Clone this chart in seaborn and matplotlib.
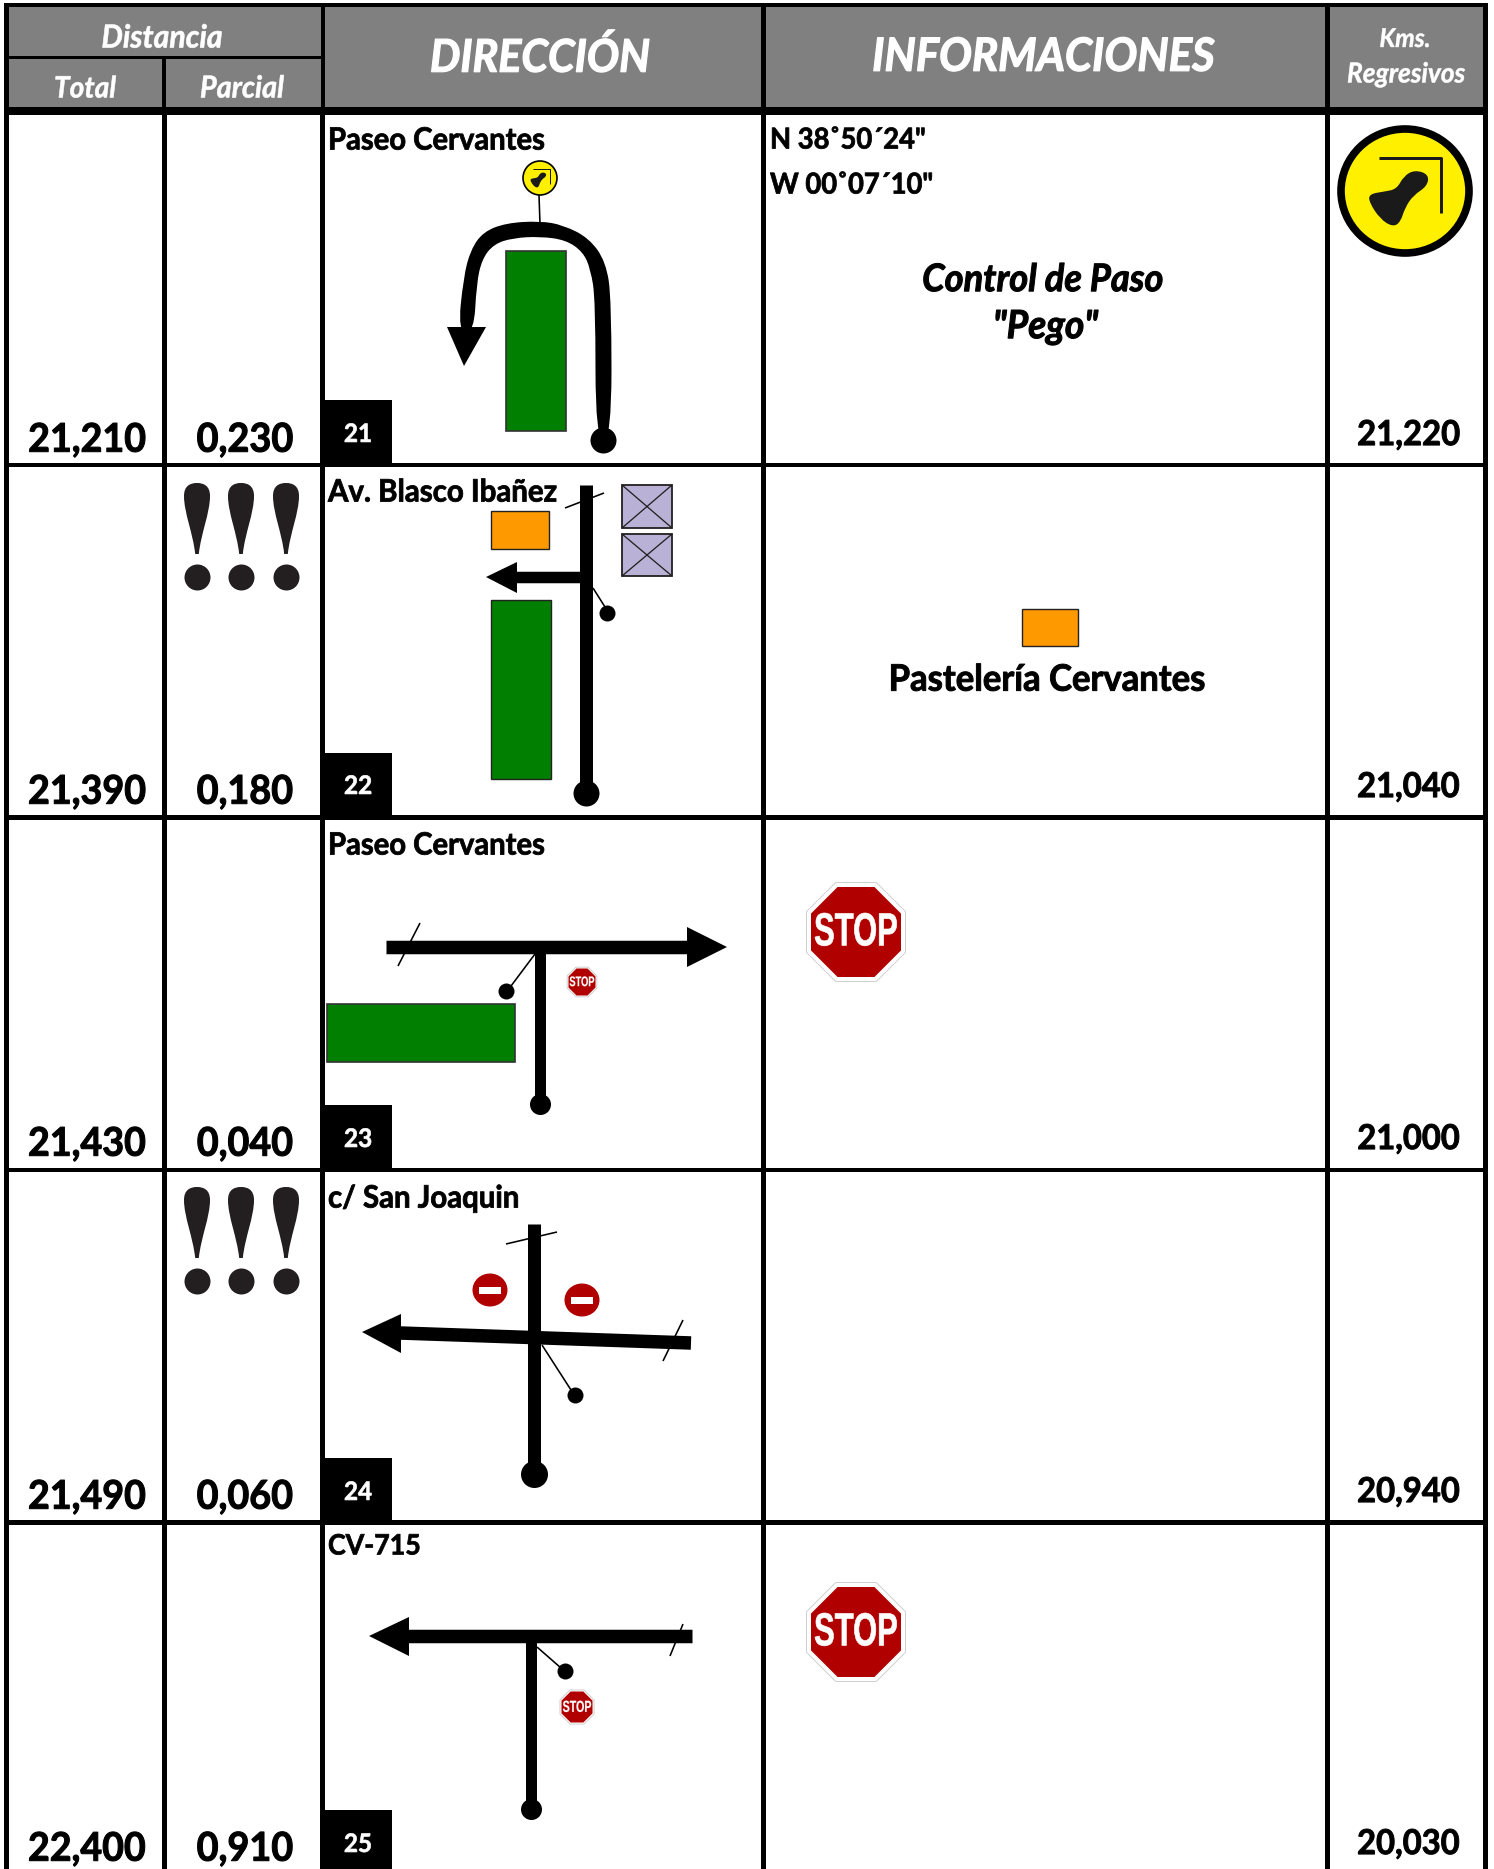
import matplotlib
matplotlib.use("Agg")
import matplotlib.pyplot as plt
import seaborn as sns
from matplotlib.patches import Rectangle, Polygon, Ellipse, PathPatch
from matplotlib.path import Path
from matplotlib.patheffects import AbstractPathEffect
from matplotlib.transforms import Affine2D

# ---- chart content -------------------------------------------------------
totals = ["21,210", "21,390", "21,430", "21,490", "22,400"]
partials = ["0,230", "0,180", "0,040", "0,060", "0,910"]
regressive = ["21,220", "21,040", "21,000", "20,940", "20,030"]
step_numbers = ["21", "22", "23", "24", "25"]
streets = ["Paseo Cervantes", "Av. Blasco Ibañez", "Paseo Cervantes", "c/ San Joaquin", "CV-715"]
street_widths = [217, 229, 217, 191, 93]
coords = ['N 38˚50´24"', 'W 00˚07´10"']
control_lines = ["Control de Paso", '"Pego"']
shop_name = "Pastelería Cervantes"

GRAY, GREEN, ORANGE, RED, LILAC, YELLOW, INK = (
    "#808080", "#007f00", "#ff9900", "#b00000", "#b9b2d6", "#fff000", "#231f20")

sns.set_theme(style="white")
plt.rcParams["font.family"] = ["Lato", "DejaVu Sans"]

fig = plt.figure(figsize=(14.94, 18.69), dpi=100, facecolor="white")
ax = fig.add_axes([0, 0, 1, 1])
ax.set_axis_off()
renderer = fig.canvas.get_renderer()


class Heavy(AbstractPathEffect):
    """Draws the text a little heavier and stretched vertically about its middle."""

    def __init__(self, fy, lw):
        super().__init__()
        self.fy, self.lw = fy, lw

    def draw_path(self, renderer, gc, tpath, affine, rgbFace=None):
        mid = tpath.get_extents().y1 / 2
        gc0 = renderer.new_gc()
        gc0.copy_properties(gc)
        gc0.set_foreground(rgbFace)
        gc0.set_linewidth(self.lw)
        stretch = Affine2D().translate(0, -mid).scale(1, self.fy).translate(0, mid)
        renderer.draw_path(gc0, tpath, stretch + affine, rgbFace)
        gc0.restore()


def label(x, y, s, width, ha="center", color="black", style="normal", family=None, z=8, fy=1.05, heavy=0.028):
    t = ax.text(x, y + 2, s, ha=ha, va="center", color=color, fontweight="bold", fontstyle=style,
                fontsize=20, zorder=z, family=family or ["Lato", "DejaVu Sans"])
    w = t.get_window_extent(renderer).width
    size = 20 * width / w
    t.set_fontsize(size)
    t.set_path_effects([Heavy(fy, size * heavy)])
    return t


def rect(x0, y0, x1, y1, fc, ec="none", lw=0, z=1):
    ax.add_patch(Rectangle((x0, y0), x1 - x0, y1 - y0, facecolor=fc, edgecolor=ec, linewidth=lw, zorder=z))


def road(xs, ys, px, z=4, color="black"):
    sns.lineplot(x=xs, y=ys, estimator=None, sort=False, color=color, linewidth=px * 0.72,
                 solid_capstyle="butt", ax=ax, zorder=z, legend=False)


def dots(xs, ys, px, color="black"):
    sns.scatterplot(x=xs, y=ys, s=(px * 0.72) ** 2, color=color, linewidth=0, ax=ax, zorder=5, legend=False)


def head(pts):
    ax.add_patch(Polygon(pts, closed=True, facecolor="black", edgecolor="none", zorder=5))


def blob(pts, color, z):
    mids = [((pts[i][0] + pts[i - 1][0]) / 2, (pts[i][1] + pts[i - 1][1]) / 2) for i in range(len(pts))]
    v, c = [mids[0]], [Path.MOVETO]
    for i in range(len(pts)):
        v += [pts[i], mids[(i + 1) % len(pts)]]
        c += [Path.CURVE3, Path.CURVE3]
    ax.add_patch(PathPatch(Path(v, c), facecolor=color, edgecolor="none", zorder=z))


def stop(cx, cy, w):
    oct_pts = [(-.41, -1), (.41, -1), (1, -.41), (1, .41), (.41, 1), (-.41, 1), (-1, .41), (-1, -.41)]
    big = [(cx + a * w * .55, cy + b * w * .55) for a, b in oct_pts]
    red = [(cx + a * w * .5, cy + b * w * .5) for a, b in oct_pts]
    ax.add_patch(Polygon(big, closed=True, facecolor="white", edgecolor="#c8c8c8", linewidth=0.6, zorder=5))
    ax.add_patch(Polygon(red, closed=True, facecolor=RED, edgecolor="none", zorder=6))
    label(cx, cy - 2, "STOP", w * .93, color="white", family="Liberation Sans", fy=1.5, heavy=0.02)


def control(cx, cy, rx, ry, ring, line_lw):
    ax.add_patch(Ellipse((cx, cy), 2 * rx, 2 * ry, facecolor=YELLOW, edgecolor="black", linewidth=ring, zorder=5))
    bell = [(.15, -.34), (.37, -.27), (.35, -.08), (.13, .07), (.0, .27), (-.07, .50), (-.19, .58),
            (-.39, .45), (-.56, .18), (-.56, .05), (-.33, .01), (-.13, -.03), (-.02, -.24)]
    blob([(cx + a * rx, cy + b * ry) for a, b in bell], "#1a1a1a", 6)
    road([cx - .40 * rx, cx + .56 * rx, cx + .56 * rx], [cy - .54 * ry, cy - .54 * ry, cy + .35 * ry],
         line_lw, z=6, color="#1a1a1a")


def exclamations(y0):
    cxs = [197, 241, 286]
    for cx in cxs:
        v = [(cx - 1.8, y0 + 71), (cx - 4, y0 + 50), (cx - 13, y0 + 30), (cx - 13, y0 + 13),
             (cx - 13, y0 + 3), (cx - 7, y0), (cx, y0), (cx + 7, y0), (cx + 13, y0 + 3), (cx + 13, y0 + 13),
             (cx + 13, y0 + 30), (cx + 4, y0 + 50), (cx + 1.8, y0 + 71), (cx - 1.8, y0 + 71)]
        c = [Path.MOVETO] + [Path.CURVE4] * 12 + [Path.CLOSEPOLY]
        ax.add_patch(PathPatch(Path(v, c), facecolor=INK, edgecolor="none", zorder=5))
    dots(cxs, [y0 + 94] * 3, 26, color=INK)


# ---- table frame ---------------------------------------------------------
rect(4, 3, 1488, 1869, "black", z=0)
rect(9, 7, 321, 55.5, GRAY)
rect(9, 59, 162, 107, GRAY)
rect(165.5, 59, 321, 107, GRAY)
rect(324.5, 7, 761, 107, GRAY)
rect(766, 7, 1325, 107, GRAY)
rect(1330, 7, 1483, 107, GRAY)

row_tops = [114.5, 467, 819.5, 1172, 1525]
row_bots = [462.5, 815, 1167.5, 1520, 1869]
col_lefts = [9, 167, 324.5, 766, 1330]
col_rights = [162, 320, 761, 1325, 1483]
for t, b in zip(row_tops, row_bots):
    for l, r in zip(col_lefts, col_rights):
        rect(l, t, r, b, "white")

# ---- header --------------------------------------------------------------
label(162, 36, "Distancia", 121, color="white", style="italic", heavy=0.02)
label(85, 87, "Total", 62, color="white", style="italic", heavy=0.02)
label(242, 87, "Parcial", 84, color="white", style="italic", heavy=0.02)
label(540, 55, "DIRECCIÓN", 220, color="white", style="italic")
label(1043, 55, "INFORMACIONES", 342, color="white", style="italic")
label(1405, 37, "Kms.", 51, color="white", style="italic", heavy=0.02)
label(1406, 72, "Regresivos", 118, color="white", style="italic", heavy=0.02)

# ---- repeated row content ------------------------------------------------
total_y = [438, 790, 1142, 1495, 1847]
regress_y = [433, 785, 1137, 1490, 1842]
box_top = [400, 753, 1105, 1458, 1810]
num_y = [432, 784, 1137, 1490, 1842]
street_y = [139, 491, 844, 1197, 1544]
for i in range(5):
    label(87, total_y[i], totals[i], 118)
    label(245, total_y[i], partials[i], 97)
    label(1408.5, regress_y[i], regressive[i], 103)
    rect(322, box_top[i], 392, min(box_top[i] + 66, 1869), "black", z=3)
    label(358, num_y[i], step_numbers[i], 28, color="white")
    label(328, street_y[i], streets[i], street_widths[i], ha="left")

# ---- row 1 ---------------------------------------------------------------
control(540, 178, 17, 17, 1.2, 1)
road([539, 540], [195, 224], 1.6)
blob([(611.5, 440), (611.5, 300), (606, 262), (589, 238), (563, 225), (540, 221), (506, 223), (483, 232),
      (470.6, 250), (463.5, 277), (458, 332), (474, 332), (476.5, 284), (482, 259), (494, 244), (513, 238),
      (540, 236.5), (566, 240), (583, 252), (590.5, 269), (595.5, 300), (595.5, 440)], "black", 4)
head([(447, 327), (486, 327), (464, 366)])
dots([603], [440], 26)
rect(506, 251, 566, 431, GREEN, ec="#333333", lw=1.2, z=2)
label(770, 138, coords[0], 156, ha="left")
label(770, 183, coords[1], 164, ha="left")
label(1043, 278, control_lines[0], 241, style="italic")
label(1045.5, 325, control_lines[1], 105, style="italic")
control(1405, 191, 64, 62, 5.5, 3)

# ---- row 2 ---------------------------------------------------------------
exclamations(483)
rect(491, 511, 549, 549, ORANGE, ec="#222222", lw=1, z=2)
rect(491, 600, 551, 779, GREEN, ec="#222222", lw=1, z=2)
for y0, y1 in [(485, 528), (534, 576)]:
    rect(622, y0, 672, y1, LILAC, ec=INK, lw=1.3, z=2)
    road([622, 672], [y0, y1], 1.3, color=INK)
    road([622, 672], [y1, y0], 1.3, color=INK)
road([586, 586], [485, 790], 13)
road([586, 515], [577, 577], 11.5)
head([(517, 562), (517, 593), (486, 577)])
road([565, 604], [508, 493], 1.6)
road([593, 605], [588, 607], 1.6)
dots([586], [793], 26)
dots([607], [613], 16)
rect(1022, 609, 1078, 646, ORANGE, ec="#222222", lw=1, z=2)
label(1047, 678, shop_name, 317)

# ---- row 3 ---------------------------------------------------------------
road([386, 689], [947, 947], 13.5)
head([(687, 927), (687, 967), (727, 947)])
road([540, 540], [947, 1100], 11)
dots([540], [1104], 21)
road([420, 398], [923, 966], 1.6)
road([535, 511], [954, 986], 1.6)
dots([506], [991], 16)
rect(327, 1004, 515, 1062, GREEN, ec="#333333", lw=1.2, z=2)
stop(582, 982, 27)
stop(856, 932, 90)

# ---- row 4 ---------------------------------------------------------------
exclamations(1187)
road([534, 534], [1224, 1470], 13)
dots([534], [1474], 27)
road([506, 557], [1244, 1232], 1.6)
road([691, 400], [1343, 1333], 13.5)
head([(401, 1314), (401, 1353), (362, 1332)])
road([683, 663], [1320, 1361], 1.6)
road([542, 571], [1345, 1390], 1.6)
dots([575], [1395], 16)
for cx, cy in [(490, 1290), (582, 1300)]:
    ax.add_patch(Ellipse((cx, cy), 35, 33, facecolor=RED, edgecolor="none", zorder=5))
    rect(cx - 11, cy - 3.5, cx + 11, cy + 3.5, "white", z=6)

# ---- row 5 ---------------------------------------------------------------
road([692, 407], [1636, 1636], 13.5)
head([(409, 1617), (409, 1656), (369, 1636)])
road([531, 531], [1636, 1805], 11)
dots([531], [1809], 21)
road([683, 670], [1624, 1656], 1.6)
road([537, 561], [1647, 1668], 1.6)
dots([565], [1671], 16)
stop(577, 1707, 31)
stop(856, 1632, 90)

ax.set_xlim(0, 1494)
ax.set_ylim(1869, 0)
fig.savefig("out.png", dpi=100, facecolor="white")
